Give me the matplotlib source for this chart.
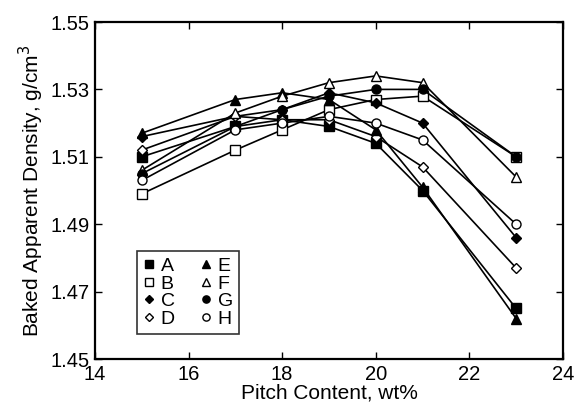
import matplotlib.pyplot as plt

plt.rcParams['font.family'] = ['Liberation Sans', 'DejaVu Sans']

# pitch content (wt%) and baked apparent density (g/cm3) per sample
pitch = [15, 17, 18, 19, 20, 21, 23]

dens_A = [1.510, 1.519, 1.521, 1.519, 1.514, 1.500, 1.465]
dens_B = [1.499, 1.512, 1.518, 1.524, 1.527, 1.528, 1.510]
dens_C = [1.516, 1.522, 1.524, 1.529, 1.526, 1.520, 1.486]
dens_D = [1.512, 1.522, 1.521, 1.521, 1.516, 1.507, 1.477]
dens_E = [1.517, 1.527, 1.529, 1.527, 1.518, 1.501, 1.462]
dens_F = [1.506, 1.523, 1.528, 1.532, 1.534, 1.532, 1.504]
dens_G = [1.505, 1.519, 1.524, 1.528, 1.530, 1.530, 1.510]
dens_H = [1.503, 1.518, 1.520, 1.522, 1.520, 1.515, 1.490]

series = [
    ("A", dens_A, "s", True),
    ("B", dens_B, "s", False),
    ("C", dens_C, "D", True),
    ("D", dens_D, "D", False),
    ("E", dens_E, "^", True),
    ("F", dens_F, "^", False),
    ("G", dens_G, "o", True),
    ("H", dens_H, "o", False),
]

fig = plt.figure(figsize=(5.77, 4.12), dpi=100)
ax = fig.add_axes([0.1646, 0.1286, 0.8111, 0.818])

for name, vals, mk, filled in series:
    ms = 5.5 if mk == "D" else 6.5
    ax.plot(pitch, vals, color="black", lw=1.2, marker=mk, markersize=ms,
            markerfacecolor="black" if filled else "white",
            markeredgecolor="black", markeredgewidth=1.0, label=name)

ax.set_xlim(14, 24)
ax.set_ylim(1.45, 1.55)
ax.set_xticks([14, 16, 18, 20, 22, 24])
ax.set_yticks([1.45, 1.47, 1.49, 1.51, 1.53, 1.55])
ax.set_yticklabels(["1.45", "1.47", "1.49", "1.51", "1.53", "1.55"])
ax.tick_params(direction="in", top=True, right=True, length=5, width=1.0,
               labelsize=14.5)
ax.tick_params(axis="x", pad=4)
ax.tick_params(axis="y", pad=4)
for sp in ax.spines.values():
    sp.set_linewidth(1.6)

ax.set_xlabel("Pitch Content, wt%", fontsize=15, labelpad=0)
ax.set_ylabel("Baked Apparent Density, g/cm$^3$", fontsize=15, labelpad=3)

leg = ax.legend(ncol=2, loc="upper left", bbox_to_anchor=(0.07, 0.348),
                fontsize=14, frameon=True, fancybox=False, edgecolor="black",
                handlelength=0.6, handletextpad=0.3, columnspacing=1.3,
                labelspacing=0.0, borderpad=0.3, markerscale=0.8)
leg.get_frame().set_linewidth(1.2)
for line in leg.get_lines():
    line.set_linestyle("none")

fig.savefig("out.png", dpi=100)
